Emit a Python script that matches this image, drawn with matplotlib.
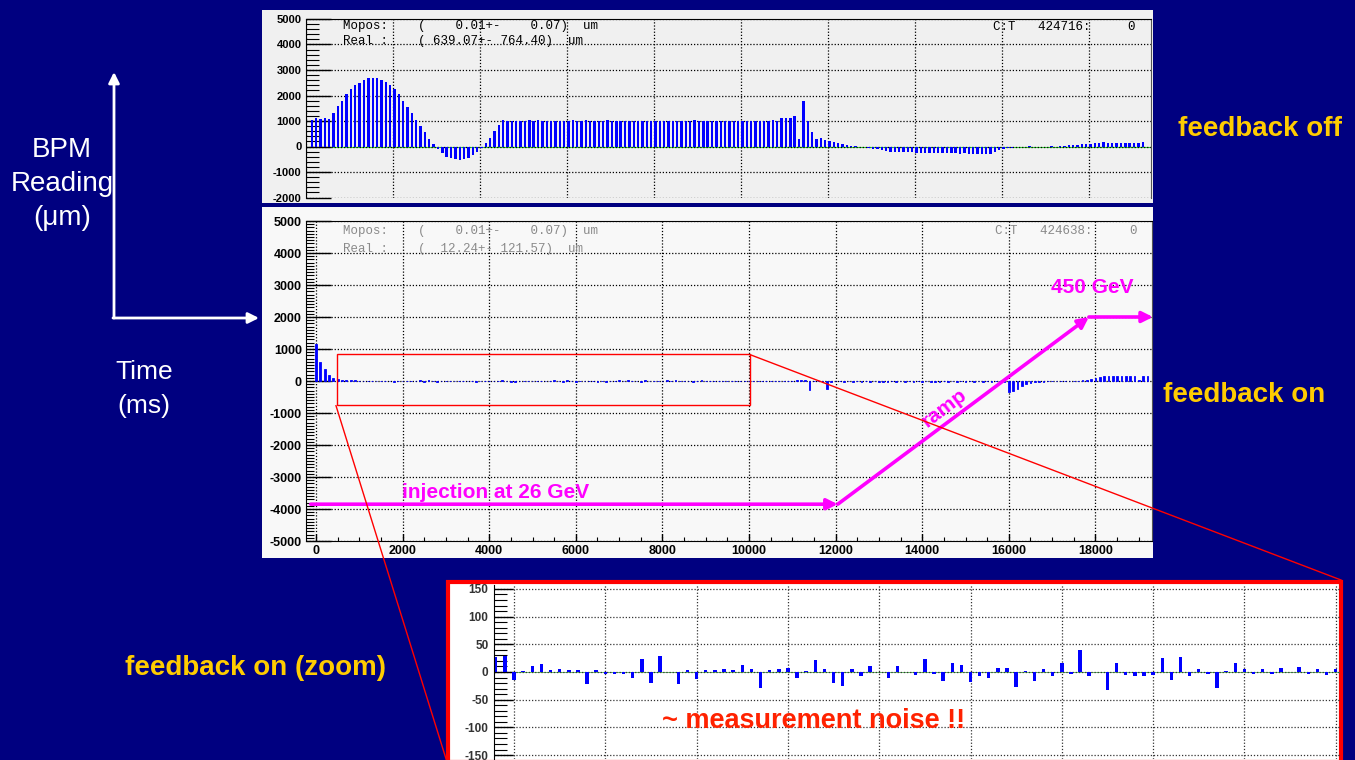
import numpy as np
import matplotlib
matplotlib.use("Agg")
import matplotlib.pyplot as plt
from matplotlib.patches import Rectangle, FancyArrowPatch
from matplotlib.lines import Line2D
from matplotlib.ticker import MultipleLocator

W, H = 1355, 760

# ---- data (um), one bar every 100 ms ----
# feedback off
off_start_ms = 140
off_values = [
    1050, 1100, 1080, 1100, 1070, 1300, 1600, 1800, 2050, 2250,
    2400, 2500, 2600, 2680, 2700, 2680, 2600, 2520, 2400, 2250,
    2050, 1800, 1550, 1300, 1050, 800, 550, 300, 100, -100,
    -250, -400, -450, -500, -530, -480, -450, -350, -200, -50,
    150, 350, 600, 850, 1020,
    1000, 1000, 1010, 1000, 1000, 1030, 1000, 1020, 1000, 1000,
    1000, 1000, 1000, 1000, 1000, 1020, 1000, 1000, 1040, 1000,
    1000, 1000, 1000, 1030, 1000, 1000, 1000, 1000, 1000, 1000,
    1000, 1000, 1000, 1000, 1000, 1000, 1000, 1000, 1000, 1000,
    1000, 1000, 1000, 1020, 1000, 1000, 1000, 1000, 1010, 990,
    1000, 1000, 990, 1000, 1000, 1000, 1000, 1000, 1000, 1000,
    1000, 1030, 1000,
    1100, 1120, 1120, 1200, 280, 1800, 990, 580, 300, 320,
    260, 220, 180, 140, 90, 50, 25, 10, 0, -20,
    -60, -80, -100, -130, -170, -200, -200, -210, -220, -230,
    -230, -240, -240, -250, -250, -260, -250, -260, -270, -260,
    -270, -280, -270, -280, -290, -300, -310, -300, -290,
    -220, -140, -100, -60, -40, -20, -10,
    0, 5, 0, 0, -5, 0, 5, 0, 10,
    20, 40, 50, 60, 80, 100, 110, 120, 130, 170,
    150, 150, 140, 140, 140, 140, 140, 140, 160,
]

# feedback on (the zoom shows the same data between 800 and 10000 ms)
on_start_ms = 0
on_values = [
    1170, 580, 360, 200, 100, 50, 30, 20,
    27, 29, -14, 2, 10, 15, 3, 5, 3, 3,
    -21, 4, -4, -3, -4, -11, 23, -20, 29, 0,
    -21, 3, -12, 3, 3, 6, 3, 13, 5, -28,
    4, 6, 8, -10, 2, 21, 5, -20, -25, 6,
    -8, 10, 0, -10, 10,
    0, -5, 23, -3, -17, 17, 13, -18, -8, -10,
    7, 7, -27, 2, -16, 5, -7, 16, -3, 39,
    -7, 0, -32, 16, -5, -8, -8, -5, 25, -14,
    27, -8, 5, -4, -28, 2, 16, 5, -4, 5,
    -3, 8, 0, 9, -3, 5, -5, 5,
    5, -8, 10, -4, 6, -10, 3, 12, -6, 8,
    30, 35, 20, -275, -15, 10, -20, -255, -30, 15,
    -10, -25, 8, -30, -15, -20, 5, -28, -12, -35,
    -18, -22, 6, -30, -8, -25, -14, -20, 4, -26,
    -10, -32, -16, -24, 8, -20, -12, -28, -6, -22,
    -15, -30, -10, -25, 5, -18, -12, -20, -30,
    -340, -300, -250, -150, -100, -60, -40, -30,
    -20, -15, -10, 5, -12, -8, 6, -5, 10,
    20, 40, 60,
    100, 140, 150, 150, 155, 150, 150, 160, 150, 145,
    20, 150, 150,
]

# annotation path (ms, um)
injection = [(-120, -3850), (12050, -3850)]
ramp = [(12050, -3850), (17850, 2000)]
flat_top = [(17850, 2000), (19330, 2000)]
zoom_box = (485, -750, 10023, 833)

off_t = off_start_ms + 100 * np.arange(len(off_values))
on_t = on_start_ms + 100 * np.arange(len(on_values))

plt.rcParams["font.family"] = ["Liberation Sans", "DejaVu Sans"]
plt.rcParams["font.weight"] = "bold"
plt.rcParams["axes.unicode_minus"] = False

NAVY = "#000080"
BLUE = "#0000ff"
GOLD = "#ffcc00"
MAG = "#ff00ff"
DOTS = (0, (1, 1.5))


def box(x0, y0, x1, y1):
    return [x0 / W, 1 - y1 / H, (x1 - x0) / W, (y1 - y0) / H]


def fx(x):
    return x / W


def fy(y):
    return 1 - y / H


fig = plt.figure(figsize=(13.55, 7.6), dpi=100, facecolor=NAVY)

# panel backgrounds
fig.add_artist(Rectangle((fx(262), fy(203)), (1153 - 262) / W, (203 - 10) / H,
                         transform=fig.transFigure, facecolor="#f0f0f0",
                         edgecolor="none", zorder=-1))
fig.add_artist(Rectangle((fx(262), fy(558)), (1153 - 262) / W, (558 - 207) / H,
                         transform=fig.transFigure, facecolor="#f8f8f8",
                         edgecolor="none", zorder=-1))
fig.add_artist(Rectangle((fx(448), fy(762)), (1341 - 448) / W, (762 - 582) / H,
                         transform=fig.transFigure, facecolor="white",
                         edgecolor="red", lw=3, zorder=-1))

# ---- top: feedback off ----
ax1 = fig.add_axes(box(305.7, 19, 1151, 197.5))
ax1.set_facecolor("none")
ax1.bar(off_t, off_values, width=55, color=BLUE, zorder=2)
ax1.axhline(0, color="#33cc33", lw=0.8, zorder=1.5)
ax1.set_xlim(0, 19430)
ax1.set_ylim(-2000, 5000)
ax1.xaxis.set_major_locator(MultipleLocator(2000))
ax1.yaxis.set_major_locator(MultipleLocator(1000))
ax1.yaxis.set_minor_locator(MultipleLocator(200))
ax1.tick_params(axis="x", which="both", bottom=False, labelbottom=False)
ax1.tick_params(axis="y", which="major", direction="in", length=18, width=1,
                labelsize=8, pad=3)
ax1.tick_params(axis="y", which="minor", direction="in", length=9, width=0.8)
ax1.grid(True, which="major", color="black", linestyle=DOTS, lw=0.9)
ax1.spines["bottom"].set_visible(False)
ax1.spines["right"].set_color("#555555")

mono = dict(family="Liberation Mono", fontsize=9, fontweight="normal", va="center")
fig.text(fx(343), fy(26.5), "Mopos:    (    0.01+-    0.07)  um", color="black", **mono)
fig.text(fx(343), fy(41), "Real :    ( 639.07+- 764.40)  um", color="black", **mono)
fig.text(fx(993), fy(26.5), "C:T   424716:     0", color="black", **mono)

# ---- bottom: feedback on ----
ax2 = fig.add_axes(box(306, 221, 1152, 541))
ax2.set_facecolor("none")
ax2.bar(on_t, on_values, width=40, color=BLUE, edgecolor=BLUE, lw=0.6, zorder=2)
ax2.set_xlim(-231, 19307)
ax2.set_ylim(-5000, 5000)
ax2.xaxis.set_major_locator(MultipleLocator(2000))
ax2.xaxis.set_minor_locator(MultipleLocator(500))
ax2.yaxis.set_major_locator(MultipleLocator(1000))
ax2.yaxis.set_minor_locator(MultipleLocator(100))
ax2.tick_params(axis="y", which="major", direction="in", length=18, width=1,
                labelsize=9, pad=3)
ax2.tick_params(axis="y", which="minor", direction="in", length=6, width=0.8)
ax2.tick_params(axis="x", which="major", direction="in", length=5, width=1,
                labelsize=9, pad=3)
ax2.tick_params(axis="x", which="minor", direction="in", length=3, width=0.8)
ax2.grid(True, which="major", color="black", linestyle=DOTS, lw=0.9)
ax2.spines["right"].set_color("#555555")
ax2.add_patch(Rectangle((zoom_box[0], zoom_box[1]), zoom_box[2] - zoom_box[0],
                        zoom_box[3] - zoom_box[1], fill=False,
                        edgecolor="red", lw=1, zorder=5))

for seg in (injection, ramp, flat_top):
    ax2.annotate("", xy=seg[1], xytext=seg[0], annotation_clip=False,
                 arrowprops=dict(arrowstyle="-|>", color=MAG, lw=2.6,
                                 mutation_scale=16, shrinkA=0, shrinkB=0),
                 zorder=6)

grey_mono = dict(mono, color="#8a8a8a")
fig.text(fx(343), fy(231), "Mopos:    (    0.01+-    0.07)  um", **grey_mono)
fig.text(fx(343), fy(249), "Real :    (  12.24+- 121.57)  um", **grey_mono)
fig.text(fx(995), fy(231), "C:T   424638:     0", **grey_mono)

# ---- zoomed inset ----
ax3 = fig.add_axes(box(494, 585, 1340, 759))
ax3.set_facecolor("none")
ax3.bar(on_t, on_values, width=38, color=BLUE, zorder=2)
ax3.axhline(0, color="#66bb66", lw=0.7, zorder=1.5)
ax3.set_xlim(781, 10047)
ax3.set_ylim(-157, 157)
ax3.xaxis.set_major_locator(MultipleLocator(1000))
ax3.yaxis.set_major_locator(MultipleLocator(50))
ax3.yaxis.set_minor_locator(MultipleLocator(10))
ax3.tick_params(axis="x", which="both", bottom=False, labelbottom=False)
ax3.tick_params(axis="y", which="major", direction="in", length=14, width=1,
                labelsize=8.5, pad=4, labelcolor="#333333")
ax3.tick_params(axis="y", which="minor", direction="in", length=9, width=0.8)
ax3.grid(True, which="major", color="#333333", linestyle=DOTS, lw=0.9)
for s in ("top", "right", "bottom"):
    ax3.spines[s].set_visible(False)

# zoom connector lines
fig.add_artist(Line2D([fx(336), fx(447)], [fy(405.7), fy(762)],
                      transform=fig.transFigure, color="red", lw=1, zorder=10))
fig.add_artist(Line2D([fx(751), fx(1341)], [fy(355), fy(580)],
                      transform=fig.transFigure, color="red", lw=1, zorder=10))

# ---- axis sketch and labels on the slide ----
fig.add_artist(FancyArrowPatch((fx(114), fy(318)), (fx(114), fy(72)),
                               transform=fig.transFigure, arrowstyle="-|>",
                               mutation_scale=16, color="white", lw=2,
                               shrinkA=0, shrinkB=0))
fig.add_artist(FancyArrowPatch((fx(113), fy(318)), (fx(259), fy(318)),
                               transform=fig.transFigure, arrowstyle="-|>",
                               mutation_scale=16, color="white", lw=2,
                               shrinkA=0, shrinkB=0))

white = dict(color="white", fontweight="normal", ha="center", va="baseline")
fig.text(fx(62), fy(157), "BPM", fontsize=20, **white)
fig.text(fx(62), fy(191), "Reading", fontsize=20, **white)
fig.text(fx(62), fy(225), "(μm)", fontsize=20, **white)
fig.text(fx(144), fy(379), "Time", fontsize=19, **white)
fig.text(fx(144), fy(413), "(ms)", fontsize=19, **white)

gold = dict(color=GOLD, fontsize=20, fontweight="bold", va="baseline")
fig.text(fx(1178), fy(136), "feedback off", **gold)
fig.text(fx(1163), fy(402), "feedback on", **gold)
fig.text(fx(125), fy(675), "feedback on (zoom)", **gold)

fig.text(fx(402), fy(498), "injection at 26 GeV", color=MAG, fontsize=15,
         fontweight="bold", va="baseline", zorder=7)
fig.text(fx(1051), fy(292.5), "450 GeV", color=MAG, fontsize=15,
         fontweight="bold", va="baseline", zorder=7)
fig.text(fx(944), fy(408), "ramp", color=MAG, fontsize=15, fontweight="bold",
         rotation=37, rotation_mode="anchor", ha="center", va="center", zorder=7)
fig.text(fx(662), fy(728), "~ measurement noise !!", color="#ff2200",
         fontsize=19.5, fontweight="bold", va="baseline", zorder=7)

fig.savefig("out.png", dpi=100, facecolor=NAVY)
